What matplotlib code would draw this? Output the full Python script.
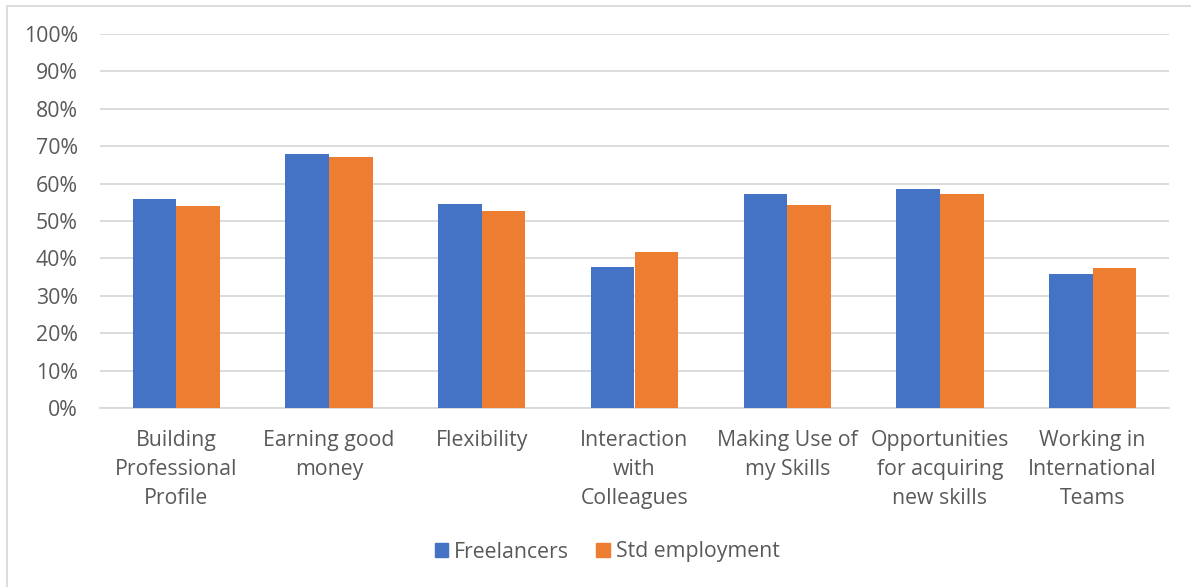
import matplotlib
matplotlib.use("Agg")
import matplotlib.pyplot as plt
from matplotlib.patches import Rectangle, Patch
import numpy as np

categories = ["Building\nProfessional\nProfile", "Earning good\nmoney", "Flexibility",
              "Interaction\nwith\nColleagues", "Making Use of\nmy Skills",
              "Opportunities\nfor acquiring\nnew skills", "Working in\nInternational\nTeams"]
freelancers = [55.9, 67.8, 54.5, 37.7, 57.3, 58.6, 35.8]
std_employment = [54.0, 67.1, 52.7, 41.6, 54.2, 57.3, 37.3]
series_names = ["Freelancers", "Std employment"]
yticks = [0, 10, 20, 30, 40, 50, 60, 70, 80, 90, 100]

blue = "#4472C4"
orange = "#ED7D31"
grey_text = "#595959"
grid_c = "#D9D9D9"

plt.rcParams['font.family'] = ['Open Sans', 'DejaVu Sans']

W, H = 1191, 587
fig = plt.figure(figsize=(W/100, H/100), dpi=100)
ax = fig.add_axes([100/W, 1-408/H, (1169-100)/W, (408-34)/H])

x = np.arange(len(categories))
bw = 0.2857
ax.bar(x - bw/2, freelancers, bw, color=blue, zorder=3)
ax.bar(x + bw/2, std_employment, bw, color=orange, zorder=3)

ax.set_xlim(-0.5, len(categories) - 0.5)
ax.set_ylim(0, 100)
ax.set_yticks(yticks)
ax.set_yticklabels([f"{v}%" for v in yticks])
ax.yaxis.grid(True, color=grid_c, linewidth=1.3, zorder=0)
ax.set_xticks(x)
ax.set_xticklabels(categories, linespacing=1.52)
for s in ["top", "right", "left"]:
    ax.spines[s].set_visible(False)
ax.spines["bottom"].set_color(grid_c)
ax.spines["bottom"].set_linewidth(1.3)
ax.tick_params(axis="both", length=0, labelsize=15.3, colors=grey_text)
ax.tick_params(axis="y", pad=16)
ax.tick_params(axis="x", pad=15.5)

handles = [Patch(color=blue), Patch(color=orange)]
fig.legend(handles, series_names, loc="center", bbox_to_anchor=(607/W, 1-552/H),
           ncol=2, frameon=False, fontsize=15.3, labelcolor=grey_text,
           handlelength=0.65, handleheight=0.65, handletextpad=0.25, columnspacing=1.3)

fig.patches.append(Rectangle((7/W, -0.01), 1.1, 1 - 6/H + 0.01, transform=fig.transFigure,
                             fill=False, edgecolor=grid_c, linewidth=1.3))

fig.savefig("out.png", dpi=100)
